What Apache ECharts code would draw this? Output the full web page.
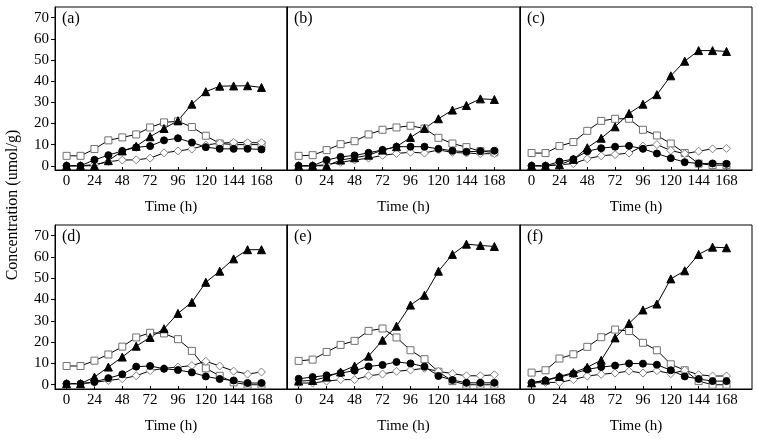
<!DOCTYPE html>
<html>
<head>
<meta charset="utf-8">
<script src="https://cdn.jsdelivr.net/npm/echarts@6/dist/echarts.min.js"></script>
<style>html,body{margin:0;padding:0;background:#fff}#c{width:757px;height:439px}</style>
</head>
<body>
<div id="c"></div>
<script>
const hours = [0,12,24,36,48,60,72,84,96,108,120,132,144,156,168];
const xTicks = [0,24,48,72,96,120,144,168];
const yTicks = [0,10,20,30,40,50,60,70];
const panelLabels = ['(a)','(b)','(c)','(d)','(e)','(f)'];
const xName = 'Time (h)';
const yName = 'Concentration (umol/g)';

// open squares
const squareA = [4.7,4.7,7.9,12,13.4,14.8,18.1,20.5,21,18.3,14.2,10.5,10,10,10];
const squareB = [4.7,5,7.4,10.2,11.6,14.8,17,18.1,18.9,17.6,13.2,10.5,8.8,6.9,6.3];
const squareC = [6,6,9.3,11.2,16.5,21.2,22.2,22.2,17,14.3,10.5,6,1,0.3,0.3];
const squareD = [8.8,8.8,11.3,14.2,17.9,22.2,24.4,24.1,21.4,15.9,7.7,4.2,1.1,0,0];
const squareE = [11.2,11.8,15.4,18.7,20.6,25.3,26.4,22.2,16.2,12,6.1,1.7,0,0,0];
const squareF = [5.7,6.8,12.3,14.3,17.8,22.3,25.9,25.2,19.7,16.2,9.6,6.8,1.7,0,0];
// filled circles
const circleA = [0,0,2.8,5,7,8.7,9.3,12,13,11,8.8,8,8,8,7.7];
const circleB = [0,0,2.7,4.2,4.9,6.1,7.5,9,9,9,8,7.1,6.6,6.9,7.1];
const circleC = [0,0,2,3.1,6.9,8.3,9,9.4,8,5.8,3.6,1.7,1.1,1.1,0.9];
const circleD = [0.5,0.5,1.3,3.1,4.9,8.5,8.8,7.5,6.9,5.8,3.9,2.7,2,0.8,0.8];
const circleE = [2.8,3.6,4.4,5.5,6.6,8.6,9.3,10.7,10,8.5,4.1,2.2,0.9,0.9,0.9];
const circleF = [0.9,2,3.6,5.2,7.2,8.3,9,10,9.9,9.4,6.8,3.9,2.7,1.7,1.7];
// filled triangles
const triangleA = [0,0,0,2.4,7,9.2,13.7,17.6,21.3,29.1,35,37.6,37.7,37.8,37];
const triangleB = [0,0,0,2.7,3.8,5,7.4,9,13.4,17.6,22.2,26.3,28.5,31.6,31.3];
const triangleC = [0,0,0.5,3,8.5,13,18.4,24.7,29.1,33.6,42.5,49.4,54.4,54.4,54];
const triangleD = [0.5,0.5,3.6,8.3,13,18.1,22.2,26.3,33.5,38.7,48.1,53.3,59.1,63.4,63.4];
const triangleE = [1.7,2,3.6,6,8.8,13.4,20.9,27.5,37.4,42,53.3,61.2,66,65.4,64.9];
const triangleF = [0.9,2.2,3.9,5.7,8.2,11.5,22,28.8,35.1,37.9,49.7,53.5,61.2,64.6,64.3];
// open diamonds
const diamondA = [0,0,0.5,1.9,2.7,2.8,3.6,6.1,7,7.9,9.8,10.7,11,10.9,10.9];
const diamondB = [0,0,0.5,1.6,2.7,3.6,4.9,5.8,6.4,6,7.5,6.3,6,5.7,5.7];
const diamondC = [0,0,0.5,1,3.3,4.7,5.3,6,9.3,10,7.2,5.7,6.9,8,8.2];
const diamondD = [0.5,0.5,1.1,2,2.8,4.2,6.6,7.7,8.3,9,11,8.8,6.4,5,6];
const diamondE = [0.8,0.8,1.7,2.4,2.4,4.2,5,6.3,6.9,7.7,6.3,5.2,4.2,4.2,4.7];
const diamondF = [0.8,1.1,1.1,2.4,4.1,4.9,5.5,6.4,5.5,6.6,5.2,6.8,4.7,4.1,4.1];

const squares = [squareA,squareB,squareC,squareD,squareE,squareF];
const circles = [circleA,circleB,circleC,circleD,circleE,circleF];
const triangles = [triangleA,triangleB,triangleC,triangleD,triangleE,triangleF];
const diamonds = [diamondA,diamondB,diamondC,diamondD,diamondE,diamondF];

const FONT = 'Liberation Serif, Times New Roman, serif';
const lefts = [55, 287, 520];
const widths = [232, 233, 232];
const tops = [7, 225];
const heights = [163, 164];

const grids = [], xAxes = [], yAxes = [], series = [], graphics = [];
for (let i = 0; i < 6; i++) {
  const col = i % 3, row = Math.floor(i / 3);
  grids.push({left: lefts[col], top: tops[row], width: widths[col], height: heights[row],
    show: true, borderColor: '#000', borderWidth: 1, backgroundColor: 'transparent', containLabel: false});
  xAxes.push({type: 'value', gridIndex: i, min: -10, max: 190,
    name: xName, nameLocation: 'middle', nameGap: 30,
    nameTextStyle: {fontFamily: FONT, fontSize: 15, color: '#000'},
    axisLine: {show: true, onZero: false, lineStyle: {color: '#000', width: 1}},
    axisTick: {show: true, inside: true, length: 3, customValues: xTicks, lineStyle: {color: '#000'}},
    splitLine: {show: false},
    axisLabel: {customValues: xTicks, fontFamily: FONT, fontSize: 15, color: '#000', margin: 4}});
  const showY = col === 0;
  yAxes.push({type: 'value', gridIndex: i, min: -2, max: 75,
    axisLine: {show: true, onZero: false, lineStyle: {color: '#000', width: 1}},
    axisTick: {show: showY, customValues: yTicks, length: 4, lineStyle: {color: '#000'}},
    splitLine: {show: false},
    axisLabel: {show: showY, customValues: yTicks, fontFamily: FONT, fontSize: 15, color: '#000', margin: 6}});
  const mk = (data, symbol, size, fill, border) => ({
    type: 'line', xAxisIndex: i, yAxisIndex: i,
    data: hours.map((h, k) => [h, data[k]]),
    symbol: symbol, symbolSize: size, showAllSymbol: true,
    lineStyle: {color: '#000', width: 1},
    itemStyle: {color: fill, borderColor: border, borderWidth: 1},
    animation: false, silent: true
  });
  series.push(mk(squares[i], 'rect', 7, '#fff', '#707070'));
  series.push(mk(diamonds[i], 'diamond', 8, '#fff', '#808080'));
  series.push(mk(circles[i], 'circle', 7, '#000', '#000'));
  series.push(mk(triangles[i], 'triangle', 8, '#000', '#000'));
  graphics.push({type: 'text', left: lefts[col] + 7, top: tops[row] + 4,
    style: {text: panelLabels[i], font: '16px ' + FONT, fill: '#000'}});
}
graphics.push({type: 'text', x: 5, y: 205, rotation: Math.PI / 2,
  style: {text: yName, font: '16px ' + FONT, fill: '#000', align: 'center', verticalAlign: 'top'}});

const chart = echarts.init(document.getElementById('c'), null, {renderer: 'canvas'});
chart.setOption({
  animation: false,
  backgroundColor: '#fff',
  grid: grids, xAxis: xAxes, yAxis: yAxes, series: series, graphic: graphics
});
</script>
</body>
</html>
